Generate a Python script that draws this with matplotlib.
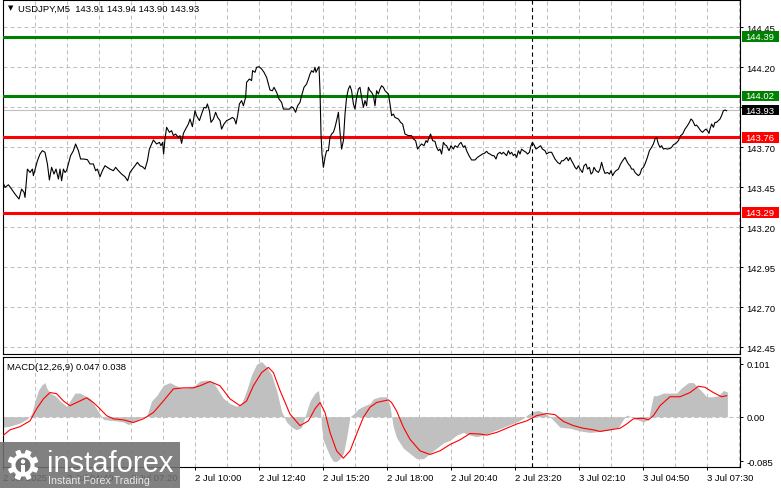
import matplotlib
matplotlib.use("Agg")
import matplotlib.pyplot as plt
from matplotlib.patches import Rectangle, Polygon, Circle
from matplotlib.transforms import blended_transform_factory
import numpy as np

plt.rcParams["font.family"] = ["Liberation Sans", "DejaVu Sans"]

# ---------------- data ----------------
title = "USDJPY,M5  143.91 143.94 143.90 143.93"
macd_title = "MACD(12,26,9) 0.047 0.038"

# bar number (5-minute bars counted from 2 Jul 02:00) of each close reading
price_bar = [
    0.0, 1.0, 2.7, 4.3, 6.0, 8.0, 9.3, 10.5, 11.0, 11.5,
    12.2, 13.5, 14.7, 15.2, 16.3, 17.2, 18.5, 19.7, 21.0, 22.2,
    23.2, 24.3, 25.5, 26.5, 27.7, 28.5, 29.3, 30.2, 31.0, 31.8,
    32.7, 33.8, 35.2, 36.3, 37.7, 38.8, 40.2, 42.2, 43.5, 45.2,
    46.3, 47.2, 48.5, 49.7, 51.0, 52.2, 53.5, 55.2, 56.3, 57.7,
    59.3, 61.0, 62.3, 63.5, 64.7, 66.0, 67.2, 68.5, 69.7, 71.0,
    72.2, 73.2, 74.3, 75.2, 76.8, 78.2, 79.0, 79.8, 80.3, 81.0,
    81.8, 83.2, 84.3, 85.2, 86.3, 87.7, 88.5, 89.3, 90.2, 91.3,
    92.7, 93.5, 94.7, 96.0, 96.8, 98.2, 99.3, 100.5, 101.5, 102.2,
    103.2, 104.0, 105.2, 106.3, 107.3, 108.5, 109.3, 110.5, 111.8, 113.5,
    114.7, 115.7, 116.5, 117.3, 118.2, 119.3, 120.2, 121.3, 121.8, 123.2,
    124.3, 124.8, 126.0, 126.8, 128.0, 129.3, 130.5, 131.8, 132.7, 133.5,
    134.7, 135.5, 136.8, 138.0, 139.3, 140.2, 141.8, 143.2, 144.3, 145.2,
    146.3, 147.3, 148.5, 149.3, 150.5, 151.8, 152.7, 153.5, 154.3, 155.2,
    156.0, 156.5, 157.3, 158.0, 158.5, 159.0, 159.5, 160.2, 161.0, 161.8,
    162.7, 163.5, 164.3, 165.2, 166.0, 166.8, 167.7, 168.5, 169.3, 170.2,
    171.0, 171.8, 172.7, 173.5, 174.3, 175.2, 176.0, 176.8, 177.7, 178.5,
    179.3, 180.2, 181.0, 181.8, 182.7, 183.5,
    184.3, 185.2, 186.0, 186.8, 187.7, 188.5, 189.3, 190.2, 191.0, 191.8,
    192.7, 193.5, 194.3, 195.2, 196.0, 197.7, 198.8, 199.8, 201.0, 202.7,
    204.3, 205.2, 206.3, 207.3, 208.5, 209.3, 210.5, 211.5, 212.2, 213.0,
    213.8, 214.8, 216.0, 216.8, 217.7, 218.5, 219.3, 220.2, 221.0, 221.8,
    223.0, 224.0, 225.2, 226.0, 227.2, 228.2, 229.0, 230.2, 231.0, 231.8,
    233.0, 234.3, 236.0, 237.2, 238.5, 239.7, 240.7, 241.8, 242.7, 243.5,
    244.7, 245.5, 246.5, 247.3, 248.5, 249.3, 250.2, 251.0, 251.8, 252.7,
    253.5, 254.3, 255.2, 256.0, 256.8, 257.7, 258.5, 259.3, 260.2, 261.5,
    262.3, 263.2, 264.0, 264.7, 265.5, 266.5, 267.7, 268.8, 269.7, 271.0,
    271.8, 273.0, 274.3, 276.0, 277.3, 278.5, 279.3, 280.2, 281.0, 281.8,
    282.7, 283.5, 284.3, 285.2, 286.0, 286.8, 287.7, 288.5, 289.7, 290.5,
    291.5, 292.3, 293.2, 294.0, 294.8, 295.5, 296.5, 297.7, 298.5, 299.3,
    300.2, 301.0, 302.2, 303.2, 304.0, 304.8, 305.7, 306.5, 307.7, 308.8,
    309.8, 311.0, 311.8, 312.7, 313.5, 314.3, 315.2, 316.0, 316.8, 317.7,
    318.5, 319.3, 320.2, 321.0, 322.2, 323.2, 324.3, 325.2, 326.0, 326.8,
    327.7, 328.5, 329.3, 330.2, 331.0, 332.2, 333.5, 334.3, 335.2, 336.5,
    337.7, 338.8, 339.8, 341.0, 342.2, 343.2, 344.0, 344.8, 346.0, 346.8,
    347.7, 348.8, 349.8, 350.5, 351.5, 352.2, 353.0, 353.5, 354.3, 355.2,
    356.0, 356.8, 357.7, 358.5, 359.3, 360.2, 361.0, 361.8,
]
price_close = [
    143.479, 143.448, 143.464, 143.437, 143.406, 143.375, 143.437, 143.417, 143.385, 143.458,
    143.562, 143.541, 143.562, 143.521, 143.573, 143.614, 143.656, 143.677, 143.667, 143.594,
    143.494, 143.573, 143.531, 143.562, 143.500, 143.562, 143.489, 143.562, 143.541, 143.552,
    143.594, 143.646, 143.677, 143.719, 143.677, 143.625, 143.625, 143.621, 143.594, 143.594,
    143.552, 143.562, 143.514, 143.552, 143.583, 143.573, 143.562, 143.552, 143.573, 143.552,
    143.531, 143.514, 143.489, 143.541, 143.562, 143.583, 143.604, 143.583, 143.577, 143.562,
    143.614, 143.687, 143.719, 143.744, 143.719, 143.729, 143.708, 143.729, 143.656, 143.750,
    143.823, 143.792, 143.802, 143.771, 143.781, 143.760, 143.771, 143.723, 143.785, 143.812,
    143.844, 143.875, 143.827, 143.927, 143.896, 143.865, 143.906, 143.948, 143.944, 143.969,
    143.927, 143.854, 143.875, 143.917, 143.885, 143.865, 143.812, 143.844, 143.865, 143.875,
    143.885, 143.875, 143.844, 143.896, 143.969, 143.990, 143.958, 144.010, 144.104, 144.125,
    144.115, 144.177, 144.167, 144.198, 144.202, 144.188, 144.167, 144.135, 144.094, 144.056,
    144.052, 144.073, 144.042, 144.000, 143.979, 143.937, 143.937, 143.937, 143.952, 143.944,
    143.917, 143.958, 143.979, 144.021, 144.073, 144.094, 144.125, 144.156, 144.177, 144.167,
    144.198, 144.167, 144.188, 144.202, 144.052, 143.781, 143.656, 143.573, 143.635, 143.677,
    143.677, 143.760, 143.781, 143.792, 143.823, 143.865, 143.917, 143.792, 143.687, 143.740,
    143.906, 144.010, 144.063, 144.083, 144.052, 143.969, 143.937, 144.010, 144.063, 144.073,
    144.010, 143.948, 143.990, 143.958, 144.073, 144.052,
    144.042, 144.021, 143.958, 144.052, 144.031, 144.063, 144.083, 144.073, 144.052, 144.042,
    144.031, 143.969, 143.896, 143.906, 143.885, 143.875, 143.854, 143.844, 143.781, 143.771,
    143.771, 143.750, 143.740, 143.687, 143.708, 143.719, 143.708, 143.740, 143.729, 143.760,
    143.781, 143.740, 143.735, 143.698, 143.677, 143.687, 143.656, 143.729, 143.714, 143.708,
    143.677, 143.708, 143.687, 143.708, 143.698, 143.719, 143.729, 143.698, 143.708, 143.677,
    143.646, 143.619, 143.619, 143.635, 143.646, 143.656, 143.660, 143.673, 143.660, 143.656,
    143.646, 143.646, 143.625, 143.656, 143.667, 143.656, 143.667, 143.656, 143.646, 143.677,
    143.656, 143.667, 143.646, 143.656, 143.635, 143.677, 143.656, 143.687, 143.677, 143.667,
    143.656, 143.667, 143.708, 143.729, 143.714, 143.687, 143.698, 143.708, 143.687, 143.677,
    143.656, 143.667, 143.667, 143.625, 143.604, 143.594, 143.614, 143.614, 143.625, 143.635,
    143.614, 143.635, 143.614, 143.594, 143.573, 143.562, 143.583, 143.562, 143.541, 143.583,
    143.594, 143.562, 143.573, 143.531, 143.541, 143.573, 143.552, 143.541, 143.562, 143.604,
    143.562, 143.535, 143.541, 143.531, 143.552, 143.521, 143.541, 143.552, 143.562, 143.594,
    143.614, 143.635, 143.614, 143.594, 143.583, 143.562, 143.562, 143.541, 143.531, 143.521,
    143.531, 143.562, 143.573, 143.594, 143.635, 143.677, 143.698, 143.719, 143.750, 143.760,
    143.719, 143.698, 143.708, 143.687, 143.691, 143.687, 143.691, 143.698, 143.714, 143.723,
    143.740, 143.771, 143.781, 143.812, 143.833, 143.854, 143.875, 143.865, 143.833, 143.837,
    143.823, 143.802, 143.792, 143.802, 143.812, 143.802, 143.785, 143.812, 143.844, 143.823,
    143.854, 143.854, 143.865, 143.875, 143.896, 143.927, 143.931, 143.927,
]
assert len(price_bar) == len(price_close)

resistance_levels = [144.39, 144.02]   # green
support_levels = [143.76, 143.29]      # red
last_price = 143.93

price_ticks = [142.45, 142.70, 142.95, 143.20, 143.45, 143.70, 143.95, 144.20, 144.45]

time_labels = ["2 Jul 2025", "2 Jul 04:40", "2 Jul 07:20", "2 Jul 10:00",
               "2 Jul 12:40", "2 Jul 15:20", "2 Jul 18:00", "2 Jul 20:40",
               "2 Jul 23:20", "3 Jul 02:10", "3 Jul 04:50", "3 Jul 07:30"]
bars_per_label = 32
day_separator_bar = 264.3

macd_bar = [
    0.0, 3.5, 8.5, 11.8, 14.3, 16.0, 17.7, 19.3, 21.0, 21.8,
    23.5, 26.0, 28.5, 31.8, 34.3, 36.0, 38.5, 41.0, 43.5, 46.0,
    48.5, 50.2, 53.5, 56.8, 60.2, 62.7, 65.2, 68.5, 71.8, 74.3,
    76.8, 80.2, 83.5, 86.0, 89.3, 92.7, 96.0, 98.5, 101.8, 105.2,
    107.7, 110.2, 113.5, 116.8, 119.3, 121.8, 124.3, 126.8, 129.3, 131.8,
    134.3, 136.8, 139.3, 141.8, 144.3, 146.8, 149.3, 151.0, 153.5, 156.0,
    157.7, 158.5, 159.3, 160.2, 161.8, 163.5, 165.2, 166.8, 168.5, 170.2,
    171.8, 173.5, 175.2, 177.7, 180.2, 183.5,
    185.2, 188.5, 191.8, 193.5, 194.3, 195.2, 196.8, 200.2, 203.5, 206.8,
    210.2, 213.5, 216.8, 220.2, 223.5, 226.8, 230.2, 233.5, 236.8, 240.2,
    243.5, 246.8, 250.2, 253.5, 256.8, 260.2, 262.7, 265.2, 267.7, 270.2,
    273.5, 276.0, 278.5, 283.5, 288.5, 293.5, 298.5, 303.5, 307.7, 310.2,
    311.8, 314.3, 316.8, 320.2, 322.7, 325.2, 326.8, 330.2, 333.5, 336.8,
    339.3, 342.7, 345.2, 347.7, 350.2, 351.8, 355.2, 357.7, 360.2, 362.2,
]
macd_main = [
    -0.020, -0.018, -0.012, -0.005, 0.005, 0.030, 0.050, 0.060, 0.065, 0.055,
    0.045, 0.040, 0.030, 0.020, 0.035, 0.045, 0.045, 0.040, 0.035, 0.020,
    0.005, -0.005, -0.007, -0.008, -0.010, -0.015, -0.010, -0.003, 0.000, 0.030,
    0.040, 0.060, 0.065, 0.060, 0.055, 0.055, 0.060, 0.068, 0.070, 0.065,
    0.050, 0.035, 0.025, 0.020, 0.025, 0.050, 0.080, 0.100, 0.105, 0.095,
    0.080, 0.050, 0.010, -0.010, -0.020, -0.025, -0.020, 0.000, 0.030, 0.045,
    0.050, 0.030, -0.020, -0.045, -0.060, -0.075, -0.085, -0.085, -0.080, -0.070,
    -0.040, 0.000, 0.005, 0.015, 0.020, 0.025,
    0.034, 0.038, 0.038, 0.020, 0.000, -0.020, -0.040, -0.060, -0.070, -0.080,
    -0.080, -0.070, -0.060, -0.050, -0.045, -0.035, -0.030, -0.035, -0.038, -0.035,
    -0.030, -0.025, -0.020, -0.015, -0.010, -0.003, 0.005, 0.010, 0.012, 0.008,
    0.000, -0.010, -0.020, -0.022, -0.027, -0.030, -0.028, -0.025, -0.020, -0.005,
    0.003, 0.000, -0.005, -0.010, -0.005, 0.040, 0.040, 0.045, 0.045, 0.045,
    0.055, 0.065, 0.065, 0.055, 0.045, 0.038, 0.038, 0.040, 0.050, 0.047,
]
assert len(macd_bar) == len(macd_main)

signal_bar = [
    0.0, 3.5, 8.5, 13.5, 16.8, 20.2, 23.5, 26.8, 30.2, 33.5,
    36.8, 41.8, 45.2, 48.5, 51.8, 55.2, 60.2, 65.2, 70.2, 75.2,
    80.2, 85.2, 90.2, 95.2, 98.5, 103.5, 108.5, 113.5, 118.5, 121.8,
    125.2, 129.3, 132.7, 135.2, 138.5, 143.5, 148.5, 152.7, 156.0, 158.5,
    161.0, 163.5, 166.8, 170.2, 173.5, 176.8, 180.2, 183.5,
    186.8, 190.2, 192.7, 194.3, 196.8, 200.2, 203.5, 208.5, 213.5, 218.5,
    223.5, 228.5, 233.5, 238.5, 241.8, 246.8, 251.8, 256.8, 261.8, 266.8,
    271.8, 276.0, 280.2, 285.2, 290.2, 295.2, 298.5, 303.5, 308.5, 311.8,
    315.2, 320.2, 322.7, 325.2, 328.5, 333.5, 338.5, 343.5, 347.7, 351.0,
    355.2, 359.3, 361.8,
]
signal_line = [
    -0.036, -0.025, -0.019, -0.008, 0.015, 0.034, 0.046, 0.044, 0.030, 0.021,
    0.027, 0.036, 0.027, 0.015, 0.002, -0.004, -0.006, -0.011, -0.004, 0.008,
    0.030, 0.053, 0.055, 0.055, 0.059, 0.067, 0.059, 0.034, 0.021, 0.030,
    0.059, 0.084, 0.094, 0.084, 0.050, 0.005, -0.017, -0.008, 0.015, 0.027,
    0.008, -0.030, -0.065, -0.079, -0.065, -0.033, -0.001, 0.018,
    0.027, 0.030, 0.032, 0.027, 0.011, -0.020, -0.043, -0.065, -0.072, -0.065,
    -0.053, -0.044, -0.032, -0.033, -0.035, -0.030, -0.022, -0.014, -0.008, 0.002,
    0.006, 0.004, -0.009, -0.017, -0.022, -0.025, -0.028, -0.025, -0.022, -0.014,
    -0.004, -0.003, -0.006, 0.002, 0.021, 0.038, 0.038, 0.046, 0.058, 0.056,
    0.046, 0.038, 0.040,
]
assert len(signal_bar) == len(signal_line)

macd_ticks = [-0.085, 0.0, 0.101]
macd_tick_labels = ["-0.085", "0.00", "0.101"]

# ---------------- layout ----------------
W, H = 781, 489
fig = plt.figure(figsize=(W / 100, H / 100), dpi=100)
fig.patch.set_facecolor("white")


def box(x0, y0, x1, y1):
    return [x0 / W, 1 - y1 / H, (x1 - x0) / W, (y1 - y0) / H]


ax = fig.add_axes(box(2.5, 0.5, 740, 355))
axm = fig.add_axes(box(2.5, 357.5, 740, 468))

XMIN, XMAX = -0.25, 368.5
GRID = "#c0c0c0"
DASH = (0, (3.8, 2.9))
FS = 6.8

for a in (ax, axm):
    a.set_xlim(XMIN, XMAX)
    a.set_facecolor("white")
    for s in a.spines.values():
        s.set_linewidth(0.8)
        s.set_color("black")
    a.set_xticks(np.arange(0, XMAX, bars_per_label))
    a.set_xticks(np.arange(bars_per_label / 2, XMAX, bars_per_label), minor=True)
    a.grid(True, which="both", axis="x", color=GRID, lw=0.75, ls=DASH, zorder=0)
    a.set_axisbelow(True)
    a.yaxis.tick_right()
    a.tick_params(axis="y", which="both", direction="out", length=2.5, width=0.7,
                  pad=2, labelsize=FS, colors="black")
    a.tick_params(axis="x", which="minor", length=0)

# main price panel
ax.set_ylim(142.4063, 144.6219)
ax.set_yticks(price_ticks)
ax.set_yticklabels([f"{v:.2f}" for v in price_ticks])
ax.grid(True, axis="y", color=GRID, lw=0.75, ls=DASH, zorder=0)
ax.tick_params(axis="x", which="major", length=0, labelbottom=False)

ax.axhline(last_price, color=GRID, lw=0.8, zorder=1)
for lv in resistance_levels:
    ax.axhline(lv, color="#008000", lw=2.2, zorder=3)
for lv in support_levels:
    ax.axhline(lv, color="#ff0000", lw=2.2, zorder=3)
ax.plot(price_bar, price_close, color="black", lw=0.8, zorder=4)
ax.axvline(day_separator_bar, color="black", lw=0.8, ls=DASH, zorder=2)

# level boxes on the price scale
y0, y1 = ax.get_ylim()
ppx = (y1 - y0) / (355 - 0.5)
btr = blended_transform_factory(fig.transFigure, ax.transData)
level_boxes = ([(v, "#008000") for v in resistance_levels] +
               [(v, "#ff0000") for v in support_levels] +
               [(last_price, "#000000")])
for v, c in level_boxes:
    ax.add_patch(Rectangle((741.5 / W, v - 5.2 * ppx), 37 / W, 10.4 * ppx,
                           transform=btr, fc=c, ec="none", clip_on=False, zorder=20))
    ax.text(760 / W, v, f"{v:.2f}", transform=btr, ha="center", va="center",
            color="white", fontsize=FS, clip_on=False, zorder=21)

# MACD panel
axm.set_ylim(-0.0958, 0.1147)
axm.set_yticks(macd_ticks)
axm.set_yticklabels(macd_tick_labels)
axm.axhline(0, color=GRID, lw=0.75, ls=DASH, zorder=0)
axm.fill_between(macd_bar, 0, macd_main, color="#c0c0c0", lw=0, zorder=2)
axm.plot(signal_bar, signal_line, color="#ff0000", lw=0.8, zorder=3)
axm.axvline(day_separator_bar, color="black", lw=0.8, ls=DASH, zorder=4)
axm.set_xticklabels(time_labels, ha="left")
axm.tick_params(axis="x", which="major", direction="out", length=2.5, width=0.7,
                pad=2, labelsize=FS, colors="black")

# titles
fig.text(7.5 / W, 1 - 8.5 / H, "▼", fontsize=5, color="black",
         va="center", ha="left", family=["DejaVu Sans"])
fig.text(18 / W, 1 - 9 / H, title, fontsize=FS, color="black", va="center", ha="left")
fig.text(7 / W, 1 - 368 / H, macd_title, fontsize=FS, color="black", va="center", ha="left")

# watermark logo
lax = fig.add_axes([0, 0, 1, 1])
lax.set_xlim(0, W)
lax.set_ylim(H, 0)
lax.axis("off")
lax.add_patch(Rectangle((0, 443), 180, 46, fc="#707070", ec="none", alpha=0.88))
cx, cy = 23, 466
ang = np.linspace(0, 2 * np.pi, 97)
rad = np.where((np.floor(ang / (2 * np.pi / 8) * 2) % 2) == 0, 15.5, 11.5)
lax.add_patch(Polygon(np.c_[cx + rad * np.cos(ang + 0.2), cy + rad * np.sin(ang + 0.2)],
                      closed=True, fc="white", ec="none"))
lax.add_patch(Circle((cx, cy), 7.5, fc="#707070", ec="none"))
lax.add_patch(Circle((cx, cy - 3.5), 2.2, fc="white", ec="none"))
lax.add_patch(Rectangle((cx - 1.8, cy - 0.5), 3.6, 9, fc="white", ec="none"))
lax.text(47, 472, "instaforex", fontsize=21, color="white", ha="left", va="baseline")
lax.text(48, 484, "Instant Forex Trading", fontsize=7.7, color="#e8e8e8",
         ha="left", va="baseline")

fig.savefig("out.png", dpi=100, facecolor="white")
